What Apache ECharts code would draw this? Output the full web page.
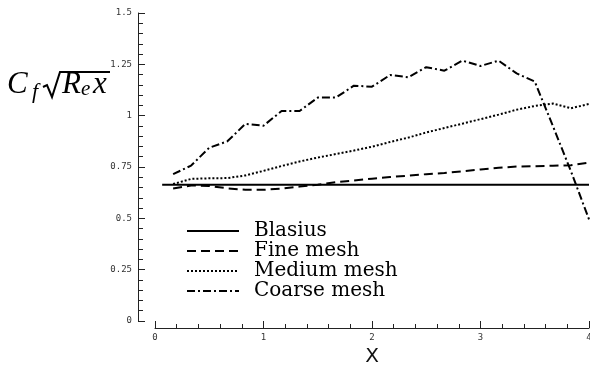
<!DOCTYPE html>
<html>
<head>
<meta charset="utf-8">
<script src="https://cdn.jsdelivr.net/npm/echarts@6/dist/echarts.min.js"></script>
<style>
  html, body { margin: 0; padding: 0; background: #fff; }
  #chart { width: 590px; height: 370px; }
</style>
</head>
<body>
<div id="chart"></div>
<script>
// x stations (k/6) shared by the mesh curves
var xs = [0.167, 0.333, 0.5, 0.667, 0.833, 1.0, 1.167, 1.333, 1.5, 1.667, 1.833, 2.0,
          2.167, 2.333, 2.5, 2.667, 2.833, 3.0, 3.167, 3.333, 3.5, 3.667, 3.833, 4.0]
var blasiusX = [0.066, 4.0]
var blasiusY = [0.664, 0.664]
var fineY = [0.645, 0.66, 0.658, 0.646, 0.639, 0.639, 0.645, 0.655, 0.664, 0.676, 0.684, 0.693,
             0.701, 0.708, 0.715, 0.721, 0.729, 0.738, 0.746, 0.752, 0.754, 0.756, 0.759, 0.771]
var mediumY = [0.667, 0.692, 0.695, 0.696, 0.709, 0.731, 0.755, 0.777, 0.796, 0.813, 0.83, 0.849,
               0.872, 0.893, 0.918, 0.94, 0.961, 0.983, 1.005, 1.029, 1.047, 1.059, 1.036, 1.057]
var coarseY = [0.715, 0.757, 0.844, 0.875, 0.96, 0.951, 1.023, 1.023, 1.088, 1.088, 1.146, 1.141,
               1.198, 1.187, 1.236, 1.219, 1.268, 1.242, 1.268, 1.206, 1.166, 0.95, 0.73, 0.495]
var names = ['Blasius', 'Fine mesh', 'Medium mesh', 'Coarse mesh']

function pairs(x, y) {
  return x.map(function (v, i) { return [v, y[i]] })
}

var chart = echarts.init(document.getElementById('chart'))

function lineSeries(name, data, dash) {
  return {
    name: name,
    type: 'line',
    data: data,
    symbol: 'none',
    silent: true,
    animation: false,
    itemStyle: { color: '#000' },
    lineStyle: { color: '#000', width: 2, type: dash }
  }
}

function mathFont(size) {
  return 'italic ' + size + 'px "Liberation Serif", serif'
}

chart.setOption({
  backgroundColor: '#fff',
  animation: false,
  grid: { left: 155, right: 1, top: 13, bottom: 49, outerBoundsMode: 'none' },
  legend: {
    orient: 'vertical',
    left: 181,
    top: 216,
    itemWidth: 52,
    itemHeight: 14,
    itemGap: 0,
    data: names,
    itemStyle: { opacity: 0 },
    textStyle: {
      fontFamily: '"DejaVu Serif", serif',
      fontSize: 20,
      lineHeight: 20,
      color: '#000',
      padding: [0, 0, 0, 10]
    }
  },
  xAxis: {
    type: 'value',
    min: 0,
    max: 4,
    interval: 1,
    offset: 7,
    name: 'X',
    nameLocation: 'middle',
    nameGap: 17,
    nameTextStyle: { fontFamily: '"DejaVu Sans", sans-serif', fontSize: 20, color: '#111' },
    axisLine: { onZero: false, lineStyle: { color: '#222', width: 1 } },
    axisTick: { inside: true, length: 7, lineStyle: { color: '#222' } },
    minorTick: { show: true, splitNumber: 5, length: 4, lineStyle: { color: '#222' } },
    axisLabel: { fontFamily: '"DejaVu Sans Mono", monospace', fontSize: 9, color: '#333', margin: 5 },
    splitLine: { show: false }
  },
  yAxis: {
    type: 'value',
    min: 0,
    max: 1.5,
    interval: 0.25,
    offset: 17,
    axisLine: { show: true, onZero: false, lineStyle: { color: '#222', width: 1 } },
    axisTick: { show: true, inside: true, length: 7, lineStyle: { color: '#222' } },
    minorTick: { show: true, splitNumber: 5, length: 5, lineStyle: { color: '#222' } },
    axisLabel: { fontFamily: '"DejaVu Sans Mono", monospace', fontSize: 9, color: '#333', margin: 6 },
    splitLine: { show: false }
  },
  // y axis title: C_f sqrt(R_e x)
  graphic: [
    { type: 'text', left: 7, top: 69, style: { text: 'C', font: mathFont(31), fill: '#000' } },
    { type: 'text', left: 32, top: 81, style: { text: 'f', font: mathFont(22), fill: '#000' } },
    { type: 'polyline', shape: { points: [[43, 87], [47, 85], [52, 97], [60, 72], [110, 72]] },
      style: { stroke: '#000', lineWidth: 2, fill: null } },
    { type: 'text', left: 62, top: 69, style: { text: 'R', font: mathFont(31), fill: '#000' } },
    { type: 'text', left: 81, top: 79, style: { text: 'e', font: mathFont(21), fill: '#000' } },
    { type: 'text', left: 93, top: 69, style: { text: 'x', font: mathFont(31), fill: '#000' } }
  ],
  series: [
    lineSeries(names[0], pairs(blasiusX, blasiusY), 'solid'),
    lineSeries(names[1], pairs(xs, fineY), [9, 5]),
    lineSeries(names[2], pairs(xs, mediumY), [2, 2]),
    lineSeries(names[3], pairs(xs, coarseY), [8, 3, 2, 3])
  ]
})
</script>
</body>
</html>
